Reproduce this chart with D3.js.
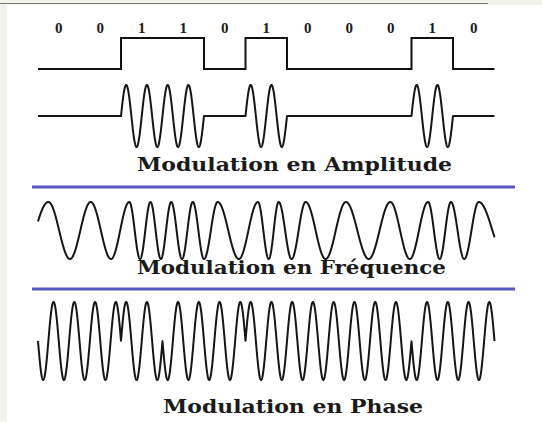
<!DOCTYPE html>
<html>
<head>
<meta charset="utf-8">
<script src="https://cdn.jsdelivr.net/npm/d3@7"></script>
<style>
  html, body { margin: 0; padding: 0; background: #ffffff; }
  svg { display: block; }
</style>
</head>
<body>
<svg id="chart" width="542" height="422"></svg>
<script>
// ---- data ----
const bits = [0, 0, 1, 1, 0, 1, 0, 0, 0, 1, 0];
const bitLabels = ["0", "0", "1", "1", "0", "1", "0", "0", "0", "1", "0"];
const askCyclesPerBit = 2;
const pskCyclesPerBit = 2;
// FM extrema, in bit-time units (peaks = +1, troughs = -1)
const fmPeaks   = [0.25, 1.27, 2.20, 2.71, 3.21, 3.73, 4.33, 5.30, 5.80, 6.45, 7.42, 8.49, 9.40, 9.95, 10.62];
const fmTroughs = [-0.38, 0.77, 1.76, 2.46, 2.96, 3.47, 4.00, 4.84, 5.56, 6.11, 6.93, 7.97, 8.96, 9.68, 10.27, 11.28];
const titles = ["Modulation en Amplitude", "Modulation en Fréquence", "Modulation en Phase"];

// ---- drawing ----
const svg = d3.select("#chart");
const W = 542, H = 422;
const beige = "#f3f3e9";

svg.append("rect").attr("x", 0).attr("y", 0).attr("width", W).attr("height", H).attr("fill", "#ffffff");
svg.append("rect").attr("x", 0).attr("y", 0).attr("width", 7).attr("height", H).attr("fill", beige);
svg.append("rect").attr("x", 0).attr("y", 0).attr("width", W).attr("height", 5).attr("fill", beige);
svg.append("line").attr("x1", 0).attr("x2", 488).attr("y1", 3.5).attr("y2", 3.5)
  .attr("stroke", "#777").attr("stroke-width", 1);

const x = d3.scaleLinear().domain([0, bits.length]).range([38, 494.5]);
const bitOf = t => bits[Math.min(bits.length - 1, Math.max(0, Math.floor(t)))];

const N = 4000;
const ts = d3.range(N + 1).map(i => i * bits.length / N);

// bit labels
svg.append("g").selectAll("text").data(bitLabels).join("text")
  .attr("x", (d, i) => x(i + 0.5))
  .attr("y", 33)
  .attr("text-anchor", "middle")
  .attr("font-family", "Liberation Serif")
  .attr("font-weight", "bold")
  .attr("font-size", 15)
  .attr("fill", "#1a1a1a")
  .text(d => d);

// digital signal
const yDig = d3.scaleLinear().domain([0, 1]).range([69, 38]);
const digPts = [];
bits.forEach((b, i) => { digPts.push([i, b]); digPts.push([i + 1, b]); });
svg.append("path")
  .attr("d", d3.line().x(d => x(d[0])).y(d => yDig(d[1])).curve(d3.curveLinear)(digPts))
  .attr("fill", "none").attr("stroke", "#111").attr("stroke-width", 2);

// ASK
const yAsk = d3.scaleLinear().domain([-1, 1]).range([147, 85]);
const askVal = t => bitOf(t) * Math.sin(2 * Math.PI * askCyclesPerBit * t);
svg.append("path")
  .attr("d", d3.line().x(t => x(t)).y(t => yAsk(askVal(t)))(ts))
  .attr("fill", "none").attr("stroke", "#151515").attr("stroke-width", 2)
  .attr("stroke-linejoin", "round");

// FM (from extrema)
const ext = fmPeaks.map(t => ({ t, v: 1 })).concat(fmTroughs.map(t => ({ t, v: -1 })))
  .sort((a, b) => a.t - b.t);
const fmVal = t => {
  let i = d3.bisector(d => d.t).right(ext, t) - 1;
  i = Math.max(0, Math.min(ext.length - 2, i));
  const a = ext[i], b = ext[i + 1];
  return a.v * Math.cos(Math.PI * (t - a.t) / (b.t - a.t));
};
const yFm = d3.scaleLinear().domain([-1, 1]).range([259, 202]);
svg.append("path")
  .attr("d", d3.line().x(t => x(t)).y(t => yFm(fmVal(t)))(ts))
  .attr("fill", "none").attr("stroke", "#151515").attr("stroke-width", 2)
  .attr("stroke-linejoin", "round");

// PSK (differential: phase flips at the start of each "1")
const signs = [];
let s = -1;
bits.forEach(b => { if (b === 1) s = -s; signs.push(s); });
const pskVal = t => signs[Math.min(bits.length - 1, Math.floor(t))] * Math.sin(2 * Math.PI * pskCyclesPerBit * t);
const yPsk = d3.scaleLinear().domain([-1, 1]).range([380, 302]);
svg.append("path")
  .attr("d", d3.line().x(t => x(t)).y(t => yPsk(pskVal(t)))(ts))
  .attr("fill", "none").attr("stroke", "#151515").attr("stroke-width", 2)
  .attr("stroke-linejoin", "round");

// separators
[187, 289].forEach(yy => {
  svg.append("line").attr("x1", 32).attr("x2", 515).attr("y1", yy).attr("y2", yy)
    .attr("stroke", "#5757c0").attr("stroke-width", 3);
});

// titles
const titlePos = [
  { x0: 137, y: 171, len: 315 },
  { x0: 137, y: 274, len: 309 },
  { x0: 163, y: 413, len: 260 }
];
svg.append("g").selectAll("text").data(titles).join("text")
  .attr("x", (d, i) => titlePos[i].x0)
  .attr("y", (d, i) => titlePos[i].y)
  .attr("textLength", (d, i) => titlePos[i].len)
  .attr("lengthAdjust", "spacingAndGlyphs")
  .attr("font-family", "DejaVu Serif")
  .attr("font-weight", "bold")
  .attr("font-size", 18)
  .attr("fill", "#1a1a1a")
  .text(d => d);
</script>
</body>
</html>
